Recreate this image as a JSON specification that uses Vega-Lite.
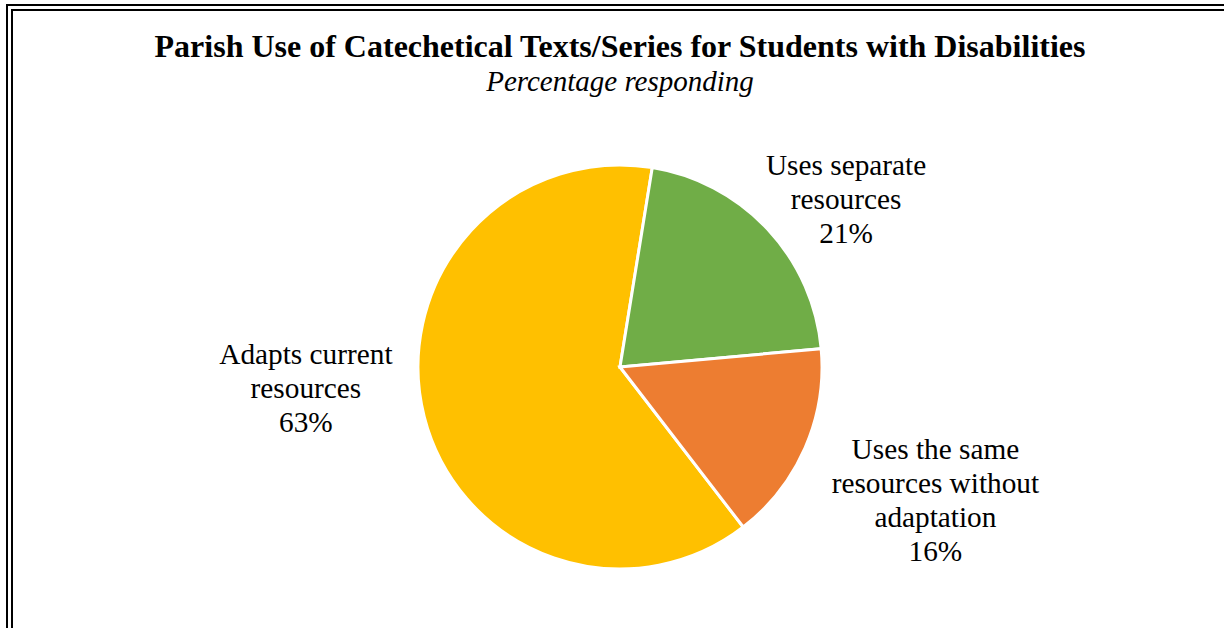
{
  "$schema": "https://vega.github.io/schema/vega-lite/v6.json",
  "autosize": {"type": "none"},
  "width": 1221,
  "height": 719,
  "padding": {"left": 9.5, "top": 7.5, "right": -6.5, "bottom": -98.5},
  "background": "white",
  "view": {"stroke": null, "fill": "white"},
  "config": {
    "text": {"font": "Liberation Serif"}
  },
  "title": {
    "text": "Parish Use of Catechetical Texts/Series for Students with Disabilities",
    "subtitle": "Percentage responding",
    "font": "Liberation Serif",
    "fontSize": 32,
    "fontWeight": "bold",
    "color": "black",
    "subtitleFont": "Liberation Serif",
    "subtitleFontSize": 29,
    "subtitleFontStyle": "italic",
    "subtitleColor": "black",
    "subtitlePadding": 4,
    "anchor": "middle",
    "frame": "group",
    "offset": -94
  },
  "data": {
    "values": [
      {"category": "Adapts current resources", "value": 63, "label": "Adapts current\nresources\n63%"},
      {"category": "Uses separate resources", "value": 21, "label": "Uses separate\nresources\n21%"},
      {"category": "Uses the same resources without adaptation", "value": 16, "label": "Uses the same\nresources without\nadaptation\n16%"}
    ]
  },
  "layer": [
    {
      "data": {"values": [{"frame": "outer"}]},
      "mark": {"type": "rect", "fill": null, "stroke": "black", "strokeWidth": 7},
      "encoding": {}
    },
    {
      "data": {"values": [{"frame": "gap"}]},
      "mark": {"type": "rect", "fill": null, "stroke": "white", "strokeWidth": 3},
      "encoding": {}
    },
    {
      "mark": {"type": "arc", "outerRadius": 202, "stroke": "white", "strokeWidth": 3},
      "encoding": {
        "theta": {"field": "value", "type": "quantitative", "stack": true, "scale": {"range": [2.4853, 8.7685]}},
        "order": {"field": "category", "sort": "ascending"},
        "color": {
          "field": "category",
          "type": "nominal",
          "legend": null,
          "scale": {
            "domain": ["Adapts current resources", "Uses separate resources", "Uses the same resources without adaptation"],
            "range": ["#FFC000", "#70AD47", "#ED7D31"]
          }
        }
      }
    },
    {
      "mark": {"type": "text", "radius": 324, "dy": -91, "fontSize": 29.3, "lineHeight": 34, "lineBreak": "\n", "baseline": "middle", "align": "center", "color": "black"},
      "encoding": {
        "theta": {"field": "value", "type": "quantitative", "stack": true, "scale": {"range": [2.4853, 8.7685]}},
        "order": {"field": "category", "sort": "ascending"},
        "text": {"condition": {"test": "datum.category === 'Adapts current resources'", "field": "label"}, "value": ""}
      }
    },
    {
      "mark": {"type": "text", "radius": 290, "dx": 14, "dy": -3, "fontSize": 29.3, "lineHeight": 34, "lineBreak": "\n", "baseline": "middle", "align": "center", "color": "black"},
      "encoding": {
        "theta": {"field": "value", "type": "quantitative", "stack": true, "scale": {"range": [2.4853, 8.7685]}},
        "order": {"field": "category", "sort": "ascending"},
        "text": {"condition": {"test": "datum.category === 'Uses separate resources'", "field": "label"}, "value": ""}
      }
    },
    {
      "mark": {"type": "text", "radius": 342, "dx": 2, "dy": -54, "fontSize": 29.3, "lineHeight": 34, "lineBreak": "\n", "baseline": "middle", "align": "center", "color": "black"},
      "encoding": {
        "theta": {"field": "value", "type": "quantitative", "stack": true, "scale": {"range": [2.4853, 8.7685]}},
        "order": {"field": "category", "sort": "ascending"},
        "text": {"condition": {"test": "datum.category === 'Uses the same resources without adaptation'", "field": "label"}, "value": ""}
      }
    }
  ]
}
